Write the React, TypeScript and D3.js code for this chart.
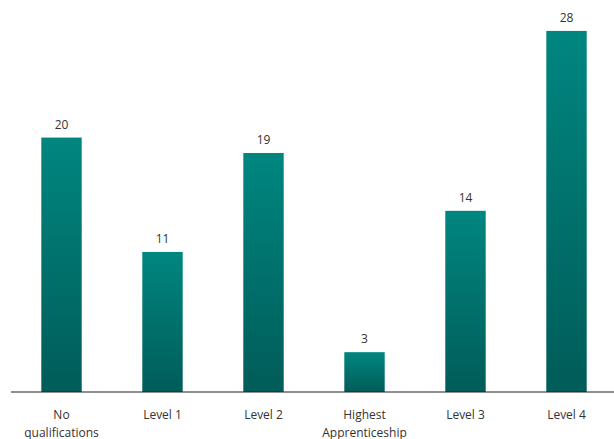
import React from "react";
import * as d3 from "d3";

const categories: string[][] = [
  ["No", "qualifications"],
  ["Level 1"],
  ["Level 2"],
  ["Highest", "Apprenticeship"],
  ["Level 3"],
  ["Level 4"],
];
const values: number[] = [19.8, 10.9, 18.6, 3.1, 14.1, 28.1];

const W = 614;
const H = 439;
const baseY = 392;
const axisX0 = 11;

export default function App() {
  const keys = categories.map((c) => c.join(" "));
  const x = d3.scaleBand<string>().domain(keys).range([axisX0, 617]).paddingInner(0.6).paddingOuter(0.3);
  const y = d3.scaleLinear().domain([0, 30]).range([baseY, 6.5]);
  const fmt = d3.format(".0f");
  const font = "'Open Sans', 'Noto Sans', sans-serif";
  return (
    <svg width={W} height={H} style={{ position: "absolute", left: 0, top: 0, background: "#fff" }}>
      <defs>
        <linearGradient id="barGrad" x1="0" y1="0" x2="0" y2="1">
          <stop offset="0%" stopColor="#008680" />
          <stop offset="100%" stopColor="#005c58" />
        </linearGradient>
      </defs>
      {values.map((v, i) => {
        const k = keys[i];
        const bx = x(k)!;
        const bw = x.bandwidth();
        return (
          <g key={k}>
            <rect x={bx} y={y(v)} width={bw} height={baseY - y(v)} fill="url(#barGrad)" />
            <text x={bx + bw / 2} y={y(v) - 9} textAnchor="middle" fontFamily={font} fontSize={12} fill="#333">
              {fmt(v)}
            </text>
            {categories[i].map((line, j) => (
              <text key={j} x={bx + bw / 2} y={419 + j * 18} textAnchor="middle" fontFamily={font} fontSize={12} fill="#333">
                {line}
              </text>
            ))}
          </g>
        );
      })}
      <line x1={axisX0} x2={W} y1={baseY} y2={baseY} stroke="#222" strokeWidth={1.2} />
    </svg>
  );
}
